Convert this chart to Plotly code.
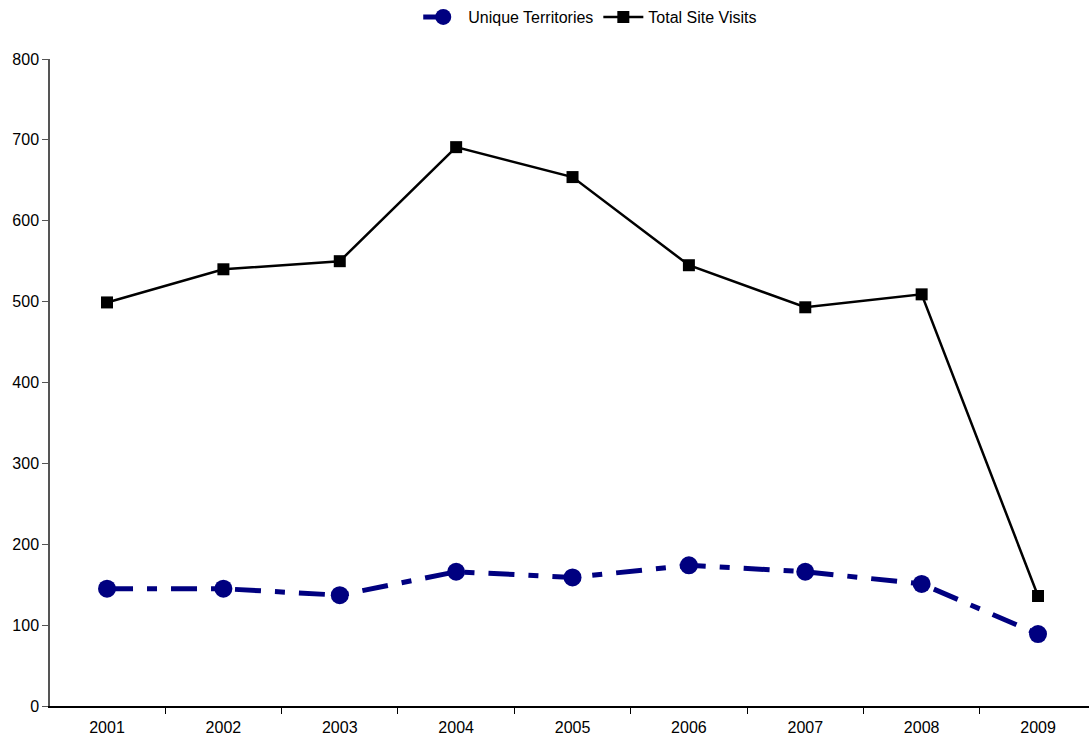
import plotly.graph_objects as go

years = ["2001", "2002", "2003", "2004", "2005", "2006", "2007", "2008", "2009"]
unique_territories = [145, 145, 137, 166, 159, 174, 166, 151, 89]
total_site_visits = [499, 540, 550, 691, 654, 545, 493, 509, 136]

fig = go.Figure()
fig.add_trace(go.Scatter(
    x=years, y=unique_territories, name="Unique Territories",
    mode="lines+markers",
    line=dict(color="#000080", width=5, dash="26px,14px,10px,14px"),
    marker=dict(symbol="circle", size=18, color="#000080"),
))
fig.add_trace(go.Scatter(
    x=years, y=total_site_visits, name="Total Site Visits",
    mode="lines+markers",
    line=dict(color="#000000", width=2.5),
    marker=dict(symbol="square", size=12, color="#000000"),
))

fig.update_layout(
    width=1089, height=738,
    margin=dict(l=50, r=0, t=59, b=32),
    plot_bgcolor="white", paper_bgcolor="white",
    font=dict(family="Liberation Sans, Arial, sans-serif", size=16, color="#000000"),
    showlegend=True,
    legend=dict(orientation="h", xref="container", yref="container",
                x=0.542, xanchor="center", y=1.0, yanchor="top",
                font=dict(size=16), itemwidth=40),
    xaxis=dict(type="category", range=[-0.49, 8.438], showgrid=False,
               showline=True, linecolor="#000000", linewidth=1.5,
               ticks="outside", tickson="boundaries", ticklen=6,
               tickcolor="#000000", zeroline=False, ticklabelstandoff=6),
    yaxis=dict(range=[0, 800], dtick=100, showgrid=False,
               showline=True, linecolor="#555555", linewidth=1.5,
               ticks="outside", ticklen=6, tickcolor="#555555",
               zeroline=False),
)

fig.write_html("out.html")
